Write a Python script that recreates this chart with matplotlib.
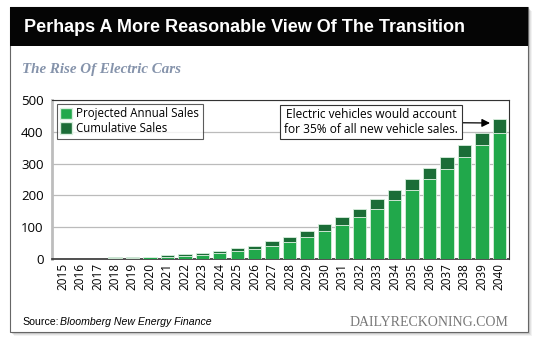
import matplotlib
matplotlib.use("Agg")
import matplotlib.pyplot as plt
from matplotlib.patches import Rectangle, Patch

# data
years = [str(y) for y in range(2015, 2041)]
annual = [0, 0, 0, 4, 4, 6, 7, 9, 13, 18, 25, 31, 41, 54, 69, 88,
          107, 133, 158, 186, 217, 251, 284, 320, 358, 397]
cumulative = [0, 0, 0, 5, 5, 7, 12, 15, 20, 25, 34, 42, 56, 69, 88, 110,
              133, 158, 188, 217, 251, 287, 320, 358, 397, 439]
yticks = [0, 100, 200, 300, 400, 500]

W, H = 540, 344
LIGHT = "#21a84b"
DARK = "#1b6d37"


def fx(px):
    return px / W


def fy(py):
    return 1 - py / H


fig = plt.figure(figsize=(W / 100, H / 100), dpi=100)
fig.patch.set_facecolor("white")

# card with a soft shadow
for off, a in [(4, 0.10), (3, 0.15), (2, 0.25)]:
    fig.patches.append(Rectangle((fx(10 + off), fy(332 + off)), fx(518), (332 - 7) / H,
                                 transform=fig.transFigure, facecolor="#888888",
                                 alpha=a, edgecolor="none", zorder=0))
fig.patches.append(Rectangle((fx(10), fy(332)), fx(518), (332 - 7) / H,
                             transform=fig.transFigure, facecolor="white",
                             edgecolor="#666666", linewidth=0.8, zorder=1))
# black title bar
fig.patches.append(Rectangle((fx(10), fy(46)), fx(518), (46 - 7) / H,
                             transform=fig.transFigure, facecolor="#050505",
                             edgecolor="none", zorder=2))

fig.text(fx(24), fy(27), "Perhaps A More Reasonable View Of The Transition",
         color="white", fontsize=13, fontweight="bold", family="Liberation Sans",
         va="center", ha="left", zorder=3)
fig.text(fx(22), fy(70), "The Rise Of Electric Cars", color="#8593ab",
         fontsize=10.8, fontweight="bold", fontstyle="italic",
         family="Liberation Serif", va="center", ha="left")

ax = fig.add_axes([fx(52), fy(259), fx(509 - 52), (259 - 100) / H])
ax.set_zorder(5)
x = range(len(years))
extra = [c - a for a, c in zip(annual, cumulative)]
ax.bar(x, annual, width=0.77, color=LIGHT, edgecolor="#d8eedd", linewidth=0.6, zorder=3)
ax.bar(x, extra, bottom=annual, width=0.77, color=DARK, edgecolor="#d8eedd",
       linewidth=0.6, zorder=3)

ax.set_xlim(-0.6, len(years) - 0.45)
ax.set_ylim(0, 500)
ax.set_yticks(yticks)
ax.set_xticks(list(x))
ax.set_xticklabels(years, rotation=90, fontsize=8.5, family="Open Sans")
ax.tick_params(axis="y", labelsize=9.5, length=0, pad=6)
ax.tick_params(axis="x", length=0, pad=3)
for lab in ax.get_yticklabels():
    lab.set_family("Open Sans")
ax.grid(axis="y", color="#bbbbbb", linewidth=0.9, zorder=0)
ax.set_axisbelow(True)
ax.spines["left"].set_color("#bdbdbd")
ax.spines["left"].set_linewidth(2)
for s in ["top", "right"]:
    ax.spines[s].set_color("#333333")
    ax.spines[s].set_linewidth(0.8)
ax.spines["bottom"].set_color("#333333")
ax.spines["bottom"].set_linewidth(1.2)

handles = [Patch(facecolor=LIGHT, edgecolor="#d8eedd"),
           Patch(facecolor=DARK, edgecolor="#d8eedd")]
leg = ax.legend(handles, ["Projected Annual Sales", "Cumulative Sales"],
                loc="upper left", bbox_to_anchor=(0.005, 0.99),
                prop={"family": "Open Sans", "size": 8.3}, frameon=True,
                fancybox=False, handlelength=1.0, handleheight=1.2,
                handletextpad=0.4, labelspacing=0.15, borderpad=0.3,
                borderaxespad=0.2)
leg.get_frame().set_edgecolor("#333333")
leg.get_frame().set_linewidth(0.8)

ax.annotate("Electric vehicles would account\nfor 35% of all new vehicle sales.",
            xy=(fx(490), fy(123)), xycoords="figure fraction",
            xytext=(fx(371), fy(122)), textcoords="figure fraction",
            ha="center", va="center", fontsize=8.6, family="Open Sans",
            linespacing=1.15,
            bbox=dict(boxstyle="square,pad=0.3", facecolor="white",
                      edgecolor="#333333", linewidth=0.8),
            arrowprops=dict(arrowstyle="-|>", color="black", lw=0.9,
                            mutation_scale=12, shrinkA=0, shrinkB=0))

fig.text(fx(22), fy(322), "Source:", fontsize=7.6, family="Liberation Sans",
         va="center", ha="left")
fig.text(fx(60), fy(322), "Bloomberg New Energy Finance", fontsize=7.6,
         fontstyle="italic", family="Liberation Sans", va="center", ha="left")
fig.text(fx(508), fy(322), "DAILYRECKONING.COM", fontsize=10, color="#777777",
         family="Liberation Serif", va="center", ha="right")

fig.savefig("out.png", dpi=100)
